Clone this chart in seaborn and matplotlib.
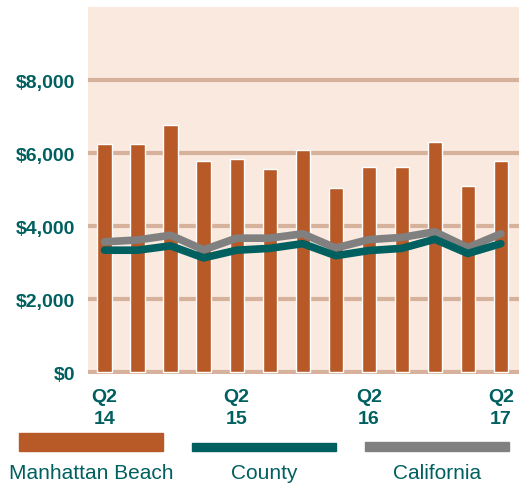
import pandas as pd
import numpy as np
import matplotlib.pyplot as plt
import seaborn as sns
from matplotlib.patches import Rectangle

# quarterly values, Q2 2014 .. Q2 2017
quarters = ['Q2 14', 'Q3 14', 'Q4 14', 'Q1 15', 'Q2 15', 'Q3 15', 'Q4 15',
            'Q1 16', 'Q2 16', 'Q3 16', 'Q4 16', 'Q1 17', 'Q2 17']
manhattan = [6240, 6240, 6760, 5780, 5830, 5560, 6080, 5040, 5615, 5615, 6300, 5090, 5780]
county = [3340, 3340, 3460, 3130, 3340, 3390, 3520, 3190, 3330, 3390, 3640, 3250, 3520]
california = [3570, 3620, 3750, 3350, 3670, 3670, 3790, 3400, 3630, 3690, 3845, 3410, 3790]
tick_labels = ['Q2\n14', '', '', '', 'Q2\n15', '', '', '', 'Q2\n16', '', '', '', 'Q2\n17']

BAR = '#b85a28'
TEAL = '#005f5f'
GRAY = '#808080'
BG = '#fae9df'
GRID = '#d6b19b'

sns.set_style('white')
plt.rcParams['font.family'] = ['Liberation Sans', 'DejaVu Sans']

df = pd.DataFrame({'quarter': quarters, 'Manhattan Beach': manhattan,
                   'County': county, 'California': california})
df['pos'] = np.arange(len(df))

fig = plt.figure(figsize=(5.26, 4.89), dpi=100)
ax = fig.add_axes([88 / 526, 1 - 375 / 489, (519 - 88) / 526, (375 - 8) / 489])
ax.set_facecolor(BG)

# gridlines first so the bars sit on top of them
for v in [0, 2000, 4000, 6000, 8000]:
    ax.axhline(v, color=GRID, lw=3, zorder=0)

sns.barplot(data=df, x='quarter', y='Manhattan Beach', color=BAR, width=0.43,
            saturation=1, ax=ax)
for p in ax.patches:
    p.set_zorder(2)
sns.lineplot(data=df, x='pos', y='California', color=GRAY, lw=5.5, ax=ax, zorder=3)
sns.lineplot(data=df, x='pos', y='County', color=TEAL, lw=5.5, ax=ax, zorder=4)

ax.set_xlim(-0.5, 12.55)
ax.set_ylim(-50, 10000)
ax.set_yticks([0, 2000, 4000, 6000, 8000])
ax.set_yticklabels(['$0', '$2,000', '$4,000', '$6,000', '$8,000'])
ax.set_xticks(range(len(tick_labels)))
ax.set_xticklabels(tick_labels, linespacing=1.4)
ax.tick_params(axis='both', length=0, labelcolor=TEAL, labelsize=14)
ax.tick_params(axis='x', pad=10)
ax.tick_params(axis='y', pad=9)
for lbl in ax.get_xticklabels() + ax.get_yticklabels():
    lbl.set_fontweight('bold')
ax.set_xlabel('')
ax.set_ylabel('')
sns.despine(ax=ax, left=True, bottom=True, top=True, right=True)

# legend below the chart, swatch over label
W, H = 526, 489
legend = [('Manhattan Beach', BAR, 434, 18), ('County', TEAL, 444, 8),
          ('California', GRAY, 443, 9)]
lefts = [19, 192, 365]
for (name, col, top, thick), x0 in zip(legend, lefts):
    fig.add_artist(Rectangle((x0 / W, 1 - (top + thick) / H), 144 / W, thick / H,
                             transform=fig.transFigure, color=col))
    fig.text((x0 + 72) / W, 1 - 474 / H, name, ha='center', va='center',
             color=TEAL, fontsize=15)

fig.savefig('out.png', dpi=100)
